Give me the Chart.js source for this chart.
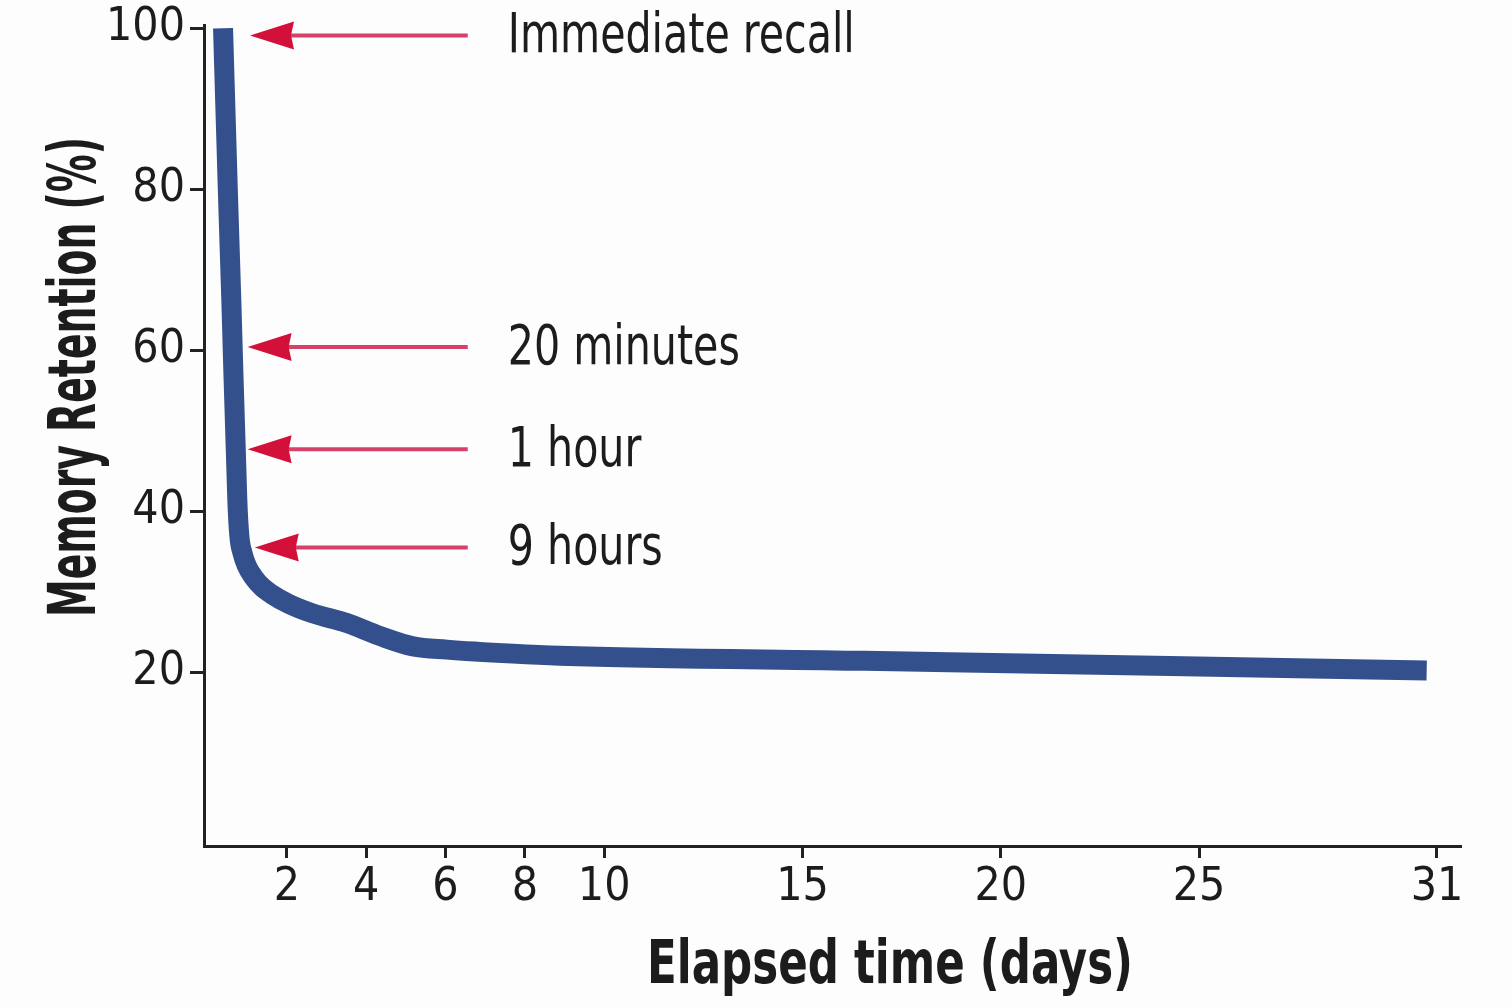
<!DOCTYPE html>
<html>
<head>
<meta charset="utf-8">
<title>Memory retention</title>
<script src="https://cdn.jsdelivr.net/npm/chart.js@4/dist/chart.umd.min.js"></script>
<style>
  html, body { margin: 0; padding: 0; background: #fdfdfd; }
  canvas { display: block; }
</style>
</head>
<body>
<canvas id="chart" width="1512" height="1008"></canvas>
<script>
// curve: elapsed days -> retention %
const days = [0.39, 0.51, 0.6, 0.75, 0.8, 0.88, 0.99, 1.16, 1.37, 1.61, 2.04, 2.65, 3.51, 4.34, 5.18, 6.03, 7.7, 8.88, 16.58, 24.26, 30.74];
const retention = [100, 80, 66, 41.4, 37, 34.8, 33.2, 31.8, 30.6, 29.7, 28.5, 27.3, 26.1, 24.5, 23.2, 22.8, 22.3, 22.05, 21.4, 20.75, 20.2];

const xTicks = [2, 4, 6, 8, 10, 15, 20, 25, 31];
const yTicks = [20, 40, 60, 80, 100];

// arrow annotations
const noteLabels = ['Immediate recall', '20 minutes', '1 hour', '9 hours'];
const noteValues = [99.1, 60.4, 47.7, 35.5];
const noteTipDays = [1.07, 1.01, 1.01, 1.19];
const noteTailDay = 6.56;
const noteTextDay = 7.57;

const xTitle = 'Elapsed time (days)';
const yTitle = 'Memory Retention (%)';

const FONT = "'Liberation Sans Narrow', 'Arial Narrow', 'DejaVu Sans Condensed', sans-serif";
const INK = '#1c1c1c';
const LINE = '#34508c';
const RED = '#d3103a';
const RED_SHAFT = '#d6416a';

const background = {
    id: 'background',
    beforeDraw(chart) {
        const ctx = chart.ctx;
        ctx.save();
        ctx.fillStyle = '#fdfdfd';
        ctx.fillRect(0, 0, chart.width, chart.height);
        ctx.restore();
    }
};

const notes = {
    id: 'notes',
    afterDraw(chart) {
        const ctx = chart.ctx;
        const xs = chart.scales.x, ys = chart.scales.y;
        ctx.save();
        ctx.font = '56px ' + FONT;
        // the original lettering is condensed: 'Immediate recall' is about 347px wide
        const squeeze = 347 / ctx.measureText(noteLabels[0]).width;
        for (let i = 0; i < noteLabels.length; i++) {
            const y = ys.getPixelForValue(noteValues[i]);
            const tip = xs.getPixelForValue(noteTipDays[i]);
            const tail = xs.getPixelForValue(noteTailDay);
            const head = 44;
            ctx.strokeStyle = RED_SHAFT;
            ctx.lineWidth = 4;
            ctx.beginPath();
            ctx.moveTo(tip + head - 4, y);
            ctx.lineTo(tail, y);
            ctx.stroke();
            ctx.fillStyle = RED;
            ctx.beginPath();
            ctx.moveTo(tip, y);
            ctx.lineTo(tip + head, y - 14);
            ctx.lineTo(tip + head - 3, y);
            ctx.lineTo(tip + head, y + 14);
            ctx.closePath();
            ctx.fill();

            ctx.save();
            ctx.fillStyle = INK;
            ctx.textAlign = 'left';
            ctx.textBaseline = 'alphabetic';
            ctx.translate(xs.getPixelForValue(noteTextDay), y + 17);
            ctx.scale(squeeze, 1);
            ctx.fillText(noteLabels[i], 0, 0);
            ctx.restore();
        }
        ctx.restore();
    }
};

// axis titles, squeezed to the condensed width of the original lettering
const titles = {
    id: 'titles',
    afterDraw(chart) {
        const ctx = chart.ctx;
        ctx.save();
        ctx.fillStyle = INK;
        ctx.textAlign = 'center';
        ctx.textBaseline = 'alphabetic';

        ctx.font = 'bold 60px ' + FONT;
        let w = ctx.measureText(xTitle).width;
        ctx.save();
        ctx.translate(890, 983);
        ctx.scale(486 / w, 1);
        ctx.fillText(xTitle, 0, 0);
        ctx.restore();

        ctx.font = 'bold 65px ' + FONT;
        w = ctx.measureText(yTitle).width;
        ctx.save();
        ctx.translate(95, 377);
        ctx.rotate(-Math.PI / 2);
        ctx.scale(480 / w, 1);
        ctx.fillText(yTitle, 0, 0);
        ctx.restore();
        ctx.restore();
    }
};

const points = days.map((d, i) => ({ x: d, y: retention[i] }));

new Chart(document.getElementById('chart'), {
    type: 'line',
    data: {
        datasets: [{
            label: 'Memory retention',
            data: points,
            borderColor: LINE,
            borderWidth: 20,
            borderCapStyle: 'butt',
            borderJoinStyle: 'round',
            cubicInterpolationMode: 'monotone',
            pointRadius: 0,
            fill: false
        }]
    },
    options: {
        responsive: false,
        animation: false,
        layout: { padding: { left: 0, top: 25, right: 52, bottom: 0 } },
        plugins: {
            legend: { display: false },
            tooltip: { enabled: false }
        },
        scales: {
            x: {
                type: 'linear',
                min: -0.09,
                max: 31.58,
                afterBuildTicks: s => { s.ticks = xTicks.map(v => ({ value: v })); },
                afterFit: s => {
                    s.height = 162;
                    s.paddingLeft = s.paddingRight = 0;
                },
                border: { display: true, color: '#222', width: 3 },
                grid: { drawOnChartArea: false, drawTicks: true, tickLength: 12, color: '#222', lineWidth: 3 },
                ticks: {
                    color: INK,
                    padding: 2,
                    maxRotation: 0,
                    autoSkip: false,
                    font: { family: FONT, size: 46 }
                }
            },
            y: {
                type: 'linear',
                min: -1.6,
                max: 100.4,
                afterBuildTicks: s => { s.ticks = yTicks.map(v => ({ value: v })); },
                afterFit: s => {
                    s.width = 204;
                    s.paddingTop = s.paddingBottom = 0;
                },
                border: { display: true, color: '#222', width: 3 },
                grid: { drawOnChartArea: false, drawTicks: true, tickLength: 14, color: '#222', lineWidth: 3 },
                ticks: {
                    color: INK,
                    padding: 5,
                    autoSkip: false,
                    font: { family: FONT, size: 46 }
                }
            }
        }
    },
    plugins: [background, notes, titles]
});
</script>
</body>
</html>
